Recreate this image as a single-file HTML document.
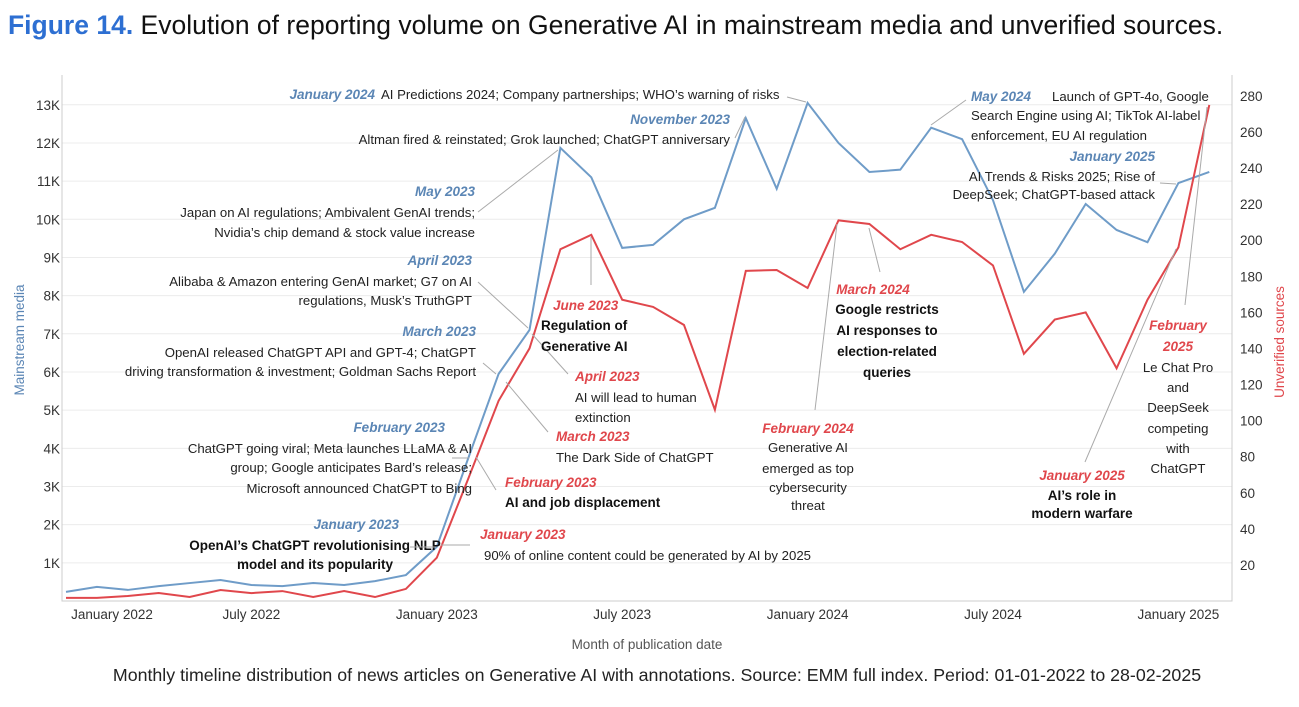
<!DOCTYPE html>
<html><head><meta charset="utf-8">
<style>
body{margin:0;background:#fff;width:1299px;height:702px;overflow:hidden;font-family:"Liberation Sans",sans-serif;}
svg text{font-family:"Liberation Sans",sans-serif;}
.t{font-size:13.2px;fill:#222;}
.b{font-size:13.5px;fill:#111;font-weight:bold;}
.bl{font-size:13.5px;fill:#5b86b5;font-style:italic;font-weight:bold;}
.rd{font-size:13.5px;fill:#e0474c;font-style:italic;font-weight:bold;}
.tick{font-size:13.5px;fill:#333;}
.ar{stroke:#aaa;stroke-width:1;fill:none;}
</style></head><body>
<svg id="chart" width="1299" height="702">
<text x="8" y="34" font-size="26.5"><tspan fill="#2d6fd2" font-weight="bold">Figure 14.</tspan><tspan fill="#111"> Evolution of reporting volume on Generative AI in mainstream media and unverified sources.</tspan></text>
<g id="grid"></g>
<g id="axes"></g>
<g id="series"></g>
<g id="ann">
<text x="375" y="99" text-anchor="end" class="bl">January 2024</text>
<text x="381" y="99" class="t">AI Predictions 2024; Company partnerships; WHO’s warning of risks</text>
<line x1="787" y1="97" x2="806" y2="102" class="ar"/>
<text x="730" y="124" text-anchor="end" class="bl">November 2023</text>
<text x="730" y="144" text-anchor="end" class="t">Altman fired &amp; reinstated; Grok launched; ChatGPT anniversary</text>
<line x1="735" y1="138" x2="745" y2="117" class="ar"/>
<text x="475" y="196" text-anchor="end" class="bl">May 2023</text>
<text x="475" y="217" text-anchor="end" class="t">Japan on AI regulations; Ambivalent GenAI trends;</text>
<text x="475" y="237" text-anchor="end" class="t">Nvidia’s chip demand &amp; stock value increase</text>
<line x1="478" y1="212" x2="558" y2="150" class="ar"/>
<text x="472" y="265" text-anchor="end" class="bl">April 2023</text>
<text x="472" y="286" text-anchor="end" class="t">Alibaba &amp; Amazon entering GenAI market; G7 on AI</text>
<text x="472" y="305" text-anchor="end" class="t">regulations, Musk’s TruthGPT</text>
<line x1="478" y1="282" x2="528" y2="328" class="ar"/>
<text x="476" y="336" text-anchor="end" class="bl">March 2023</text>
<text x="476" y="357" text-anchor="end" class="t">OpenAI released ChatGPT API and GPT-4; ChatGPT</text>
<text x="476" y="376" text-anchor="end" class="t">driving transformation &amp; investment; Goldman Sachs Report</text>
<line x1="483" y1="363" x2="496" y2="374" class="ar"/>
<text x="445" y="432" text-anchor="end" class="bl">February 2023</text>
<text x="472" y="453" text-anchor="end" class="t">ChatGPT going viral; Meta launches LLaMA &amp; AI</text>
<text x="472" y="472" text-anchor="end" class="t">group; Google anticipates Bard’s release;</text>
<text x="472" y="493" text-anchor="end" class="t">Microsoft announced ChatGPT to Bing</text>
<line x1="452" y1="458" x2="469" y2="458" class="ar"/>
<text x="399" y="529" text-anchor="end" class="bl">January 2023</text>
<text x="315" y="550" text-anchor="middle" class="b">OpenAI’s ChatGPT revolutionising NLP</text>
<text x="315" y="569" text-anchor="middle" class="b">model and its popularity</text>
<line x1="410" y1="547" x2="436" y2="547" class="ar"/>
<text x="971" y="101" class="bl">May 2024</text>
<text x="1052" y="101" class="t">Launch of GPT-4o, Google</text>
<text x="971" y="120" class="t">Search Engine using AI; TikTok AI-label</text>
<text x="971" y="140" class="t">enforcement, EU AI regulation</text>
<line x1="966" y1="100" x2="931" y2="125" class="ar"/>
<text x="1155" y="161" text-anchor="end" class="bl">January 2025</text>
<text x="1155" y="181" text-anchor="end" class="t">AI Trends &amp; Risks 2025; Rise of</text>
<text x="1155" y="199" text-anchor="end" class="t">DeepSeek; ChatGPT-based attack</text>
<line x1="1160" y1="183" x2="1176" y2="184" class="ar"/>
<text x="480" y="539" class="rd">January 2023</text>
<text x="484" y="560" class="t">90% of online content could be generated by AI by 2025</text>
<line x1="470" y1="545" x2="441" y2="545" class="ar"/>
<text x="505" y="487" class="rd">February 2023</text>
<text x="505" y="507" class="b">AI and job displacement</text>
<line x1="496" y1="490" x2="476" y2="457" class="ar"/>
<text x="556" y="441" class="rd">March 2023</text>
<text x="556" y="462" class="t">The Dark Side of ChatGPT</text>
<line x1="548" y1="432" x2="506" y2="382" class="ar"/>
<text x="575" y="381" class="rd">April 2023</text>
<text x="575" y="402" class="t">AI will lead to human</text>
<text x="575" y="422" class="t">extinction</text>
<line x1="568" y1="374" x2="532" y2="334" class="ar"/>
<text x="553" y="310" class="rd">June 2023</text>
<text x="541" y="330" class="b">Regulation of</text>
<text x="541" y="351" class="b">Generative AI</text>
<line x1="591" y1="285" x2="591" y2="237" class="ar"/>
<text x="873" y="294" text-anchor="middle" class="rd">March 2024</text>
<text x="887" y="314" text-anchor="middle" class="b">Google restricts</text>
<text x="887" y="335" text-anchor="middle" class="b">AI responses to</text>
<text x="887" y="356" text-anchor="middle" class="b">election-related</text>
<text x="887" y="377" text-anchor="middle" class="b">queries</text>
<line x1="880" y1="272" x2="869" y2="228" class="ar"/>
<text x="808" y="433" text-anchor="middle" class="rd">February 2024</text>
<text x="808" y="452" text-anchor="middle" class="t">Generative AI</text>
<text x="808" y="473" text-anchor="middle" class="t">emerged as top</text>
<text x="808" y="492" text-anchor="middle" class="t">cybersecurity</text>
<text x="808" y="510" text-anchor="middle" class="t">threat</text>
<line x1="815" y1="410" x2="837" y2="224" class="ar"/>
<text x="1082" y="480" text-anchor="middle" class="rd">January 2025</text>
<text x="1082" y="500" text-anchor="middle" class="b">AI’s role in</text>
<text x="1082" y="518" text-anchor="middle" class="b">modern warfare</text>
<line x1="1085" y1="462" x2="1176" y2="249" class="ar"/>
<text x="1178" y="330" text-anchor="middle" class="rd">February</text>
<text x="1178" y="351" text-anchor="middle" class="rd">2025</text>
<text x="1178" y="372" text-anchor="middle" class="t">Le Chat Pro</text>
<text x="1178" y="392" text-anchor="middle" class="t">and</text>
<text x="1178" y="412" text-anchor="middle" class="t">DeepSeek</text>
<text x="1178" y="433" text-anchor="middle" class="t">competing</text>
<text x="1178" y="453" text-anchor="middle" class="t">with</text>
<text x="1178" y="473" text-anchor="middle" class="t">ChatGPT</text>
<line x1="1185" y1="305" x2="1207" y2="107" class="ar"/>
</g>
<text x="24" y="340" transform="rotate(-90 24 340)" text-anchor="middle" font-size="13.5" fill="#5b86b5">Mainstream media</text>
<text x="1284" y="342" transform="rotate(-90 1284 342)" text-anchor="middle" font-size="13.5" fill="#e0474c">Unverified sources</text>
<text x="647" y="649" text-anchor="middle" font-size="13.5" fill="#555">Month of publication date</text>
<text x="657" y="681" text-anchor="middle" font-size="17.8" fill="#222">Monthly timeline distribution of news articles on Generative AI with annotations. Source: EMM full index. Period: 01-01-2022 to 28-02-2025</text>
</svg>
<script>
const months = 38;
const mainstream = [0.24,0.37,0.29,0.39,0.47,0.55,0.42,0.39,0.47,0.42,0.52,0.68,1.42,3.7,5.95,7.1,11.87,11.1,9.25,9.33,10.0,10.3,12.65,10.8,13.05,12.0,11.24,11.3,12.4,12.1,10.5,8.1,9.1,10.4,9.72,9.4,10.95,11.24];
const unverified = [1.7,1.7,2.8,4.4,2.2,6.1,4.4,5.5,2.2,5.5,2.2,6.7,24,67,111,140,195,203,167,163,153,106,183,183.5,173.5,211,209,195,203,199,186,137,156,160,129,167,196,275];
const leftTicks = [1,2,3,4,5,6,7,8,9,10,11,12,13];
const rightTicks = [20,40,60,80,100,120,140,160,180,200,220,240,260,280];
const xLabels = [[0,"January 2022"],[6,"July 2022"],[12,"January 2023"],[18,"July 2023"],[24,"January 2024"],[30,"July 2024"],[36,"January 2025"]];
const NS="http://www.w3.org/2000/svg";
const x = i => 66 + i*30.9;
const yL = v => 601 - v*38.17;
const yR = v => 601 - v*1.804;
function mk(tag, attrs, parent){const e=document.createElementNS(NS,tag);for(const k in attrs)e.setAttribute(k,attrs[k]);parent.appendChild(e);return e;}
const grid=document.getElementById('grid'), axes=document.getElementById('axes'), series=document.getElementById('series');
leftTicks.forEach(v=>{
  const l=mk('line',{x1:62,x2:1232,y1:yL(v),y2:yL(v),stroke:'#ececec','stroke-width':1},grid);
  
  
  const t=mk('text',{x:60,y:yL(v)+5,'text-anchor':'end',class:'tick'},axes);
  t.textContent=v+'K';
  
  
});
rightTicks.forEach(v=>{
  const t=mk('text',{x:1240,y:yR(v)+5,class:'tick'},axes);
  t.textContent=v;
  
  
});
const ax=mk('path',{d:'M62 75 V601 H1232 V75',stroke:'#ccc',fill:'none'},axes);


xLabels.forEach(([i,s])=>{
  let cx=x(i); if(i===0) cx=112;
  const t=mk('text',{x:cx,y:619,'text-anchor':'middle',class:'tick'},axes);
  t.textContent=s;
  
  
});
const pb=mk('polyline',{points:mainstream.map((v,i)=>x(i)+','+yL(v)).join(' '),fill:'none',stroke:'#6f9cc8','stroke-width':2},series);


const pr=mk('polyline',{points:unverified.map((v,i)=>x(i)+','+yR(v)).join(' '),fill:'none',stroke:'#e0474c','stroke-width':2},series);


</script>
</body></html>
